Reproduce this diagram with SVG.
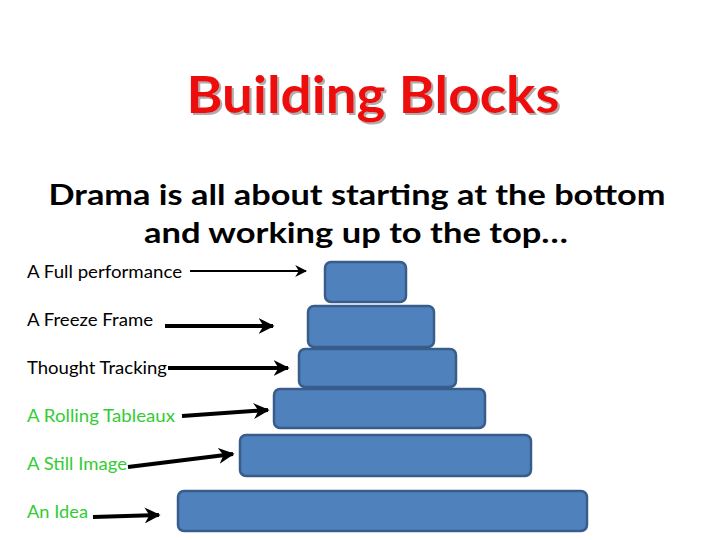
<svg xmlns="http://www.w3.org/2000/svg" width="720" height="540" viewBox="0 0 720 540">
<style>
.title{font-family:Lato,"Open Sans","Liberation Sans",sans-serif;font-weight:bold;font-size:51px;}
.head{font-family:Lato,"Open Sans","Liberation Sans",sans-serif;font-weight:bold;font-size:28px;fill:#000;}
.lbl{font-family:Lato,"Open Sans","Liberation Sans",sans-serif;font-size:18px;}
.blk{fill:#4f81bd;stroke:#385d8a;stroke-width:2.5;}
.arr{stroke:#000;fill:none;}
</style>
<defs>
<filter id="sh" x="-5%" y="-20%" width="110%" height="140%">
<feDropShadow dx="2" dy="2" stdDeviation="0.6" flood-color="#999" flood-opacity="0.8"/>
</filter>
<marker id="ah" viewBox="0 0 10 10" refX="9" refY="5" markerWidth="4" markerHeight="4" orient="auto" markerUnits="strokeWidth">
<path d="M0,0 L10,5 L0,10 L3,5 Z" fill="#000"/>
</marker>
<marker id="ah2" viewBox="0 0 10 10" refX="9" refY="5" markerWidth="6" markerHeight="6" orient="auto" markerUnits="strokeWidth">
<path d="M0,0 L10,5 L0,10 L3,5 Z" fill="#000"/>
</marker>
</defs>
<rect width="720" height="540" fill="#fff"/>
<g id="title">
<text class="title" x="373" y="113" text-anchor="middle" fill="#ee1111" filter="url(#sh)" textLength="373" lengthAdjust="spacingAndGlyphs">Building Blocks</text>
</g>
<g id="heading">
<text class="head" x="357" y="205" text-anchor="middle" textLength="617" lengthAdjust="spacingAndGlyphs">Drama is all about starting at the bottom</text>
<text class="head" x="356" y="243" text-anchor="middle" textLength="424" lengthAdjust="spacingAndGlyphs">and working up to the top…</text>
</g>
<g id="blocks">
<rect id="b1" class="blk" x="325" y="262" width="81" height="40" rx="6"/>
<rect id="b2" class="blk" x="308" y="306" width="126" height="41" rx="6"/>
<rect id="b3" class="blk" x="299" y="349" width="157" height="38" rx="6"/>
<rect id="b4" class="blk" x="274" y="389" width="211" height="39" rx="6"/>
<rect id="b5" class="blk" x="240" y="435" width="291" height="41" rx="6"/>
<rect id="b6" class="blk" x="178" y="491" width="409" height="40" rx="6"/>
</g>
<g id="labels">
<text id="l1" class="lbl" x="27" y="278" fill="#000" textLength="155" lengthAdjust="spacingAndGlyphs">A Full performance</text>
<text id="l2" class="lbl" x="27" y="326" fill="#000" textLength="126" lengthAdjust="spacingAndGlyphs">A Freeze Frame</text>
<text id="l3" class="lbl" x="27" y="374" fill="#000" textLength="140" lengthAdjust="spacingAndGlyphs">Thought Tracking</text>
<text id="l4" class="lbl" x="27" y="422" fill="#33cc33" textLength="148" lengthAdjust="spacingAndGlyphs">A Rolling Tableaux</text>
<text id="l5" class="lbl" x="27" y="470" fill="#33cc33" textLength="100" lengthAdjust="spacingAndGlyphs">A Still Image</text>
<text id="l6" class="lbl" x="27" y="518" fill="#33cc33" textLength="61" lengthAdjust="spacingAndGlyphs">An Idea</text>
</g>
<g id="connectors">
<line class="arr" x1="190" y1="271" x2="306" y2="271" stroke-width="2" marker-end="url(#ah2)"/>
<line class="arr" x1="165" y1="326" x2="273" y2="326" stroke-width="4" marker-end="url(#ah)"/>
<line class="arr" x1="168" y1="368" x2="288" y2="368" stroke-width="4" marker-end="url(#ah)"/>
<line class="arr" x1="182" y1="416" x2="268" y2="410" stroke-width="4" marker-end="url(#ah)"/>
<line class="arr" x1="128" y1="467" x2="233" y2="454" stroke-width="4" marker-end="url(#ah)"/>
<line class="arr" x1="93" y1="517" x2="159" y2="515" stroke-width="4" marker-end="url(#ah)"/>
</g>
</svg>
